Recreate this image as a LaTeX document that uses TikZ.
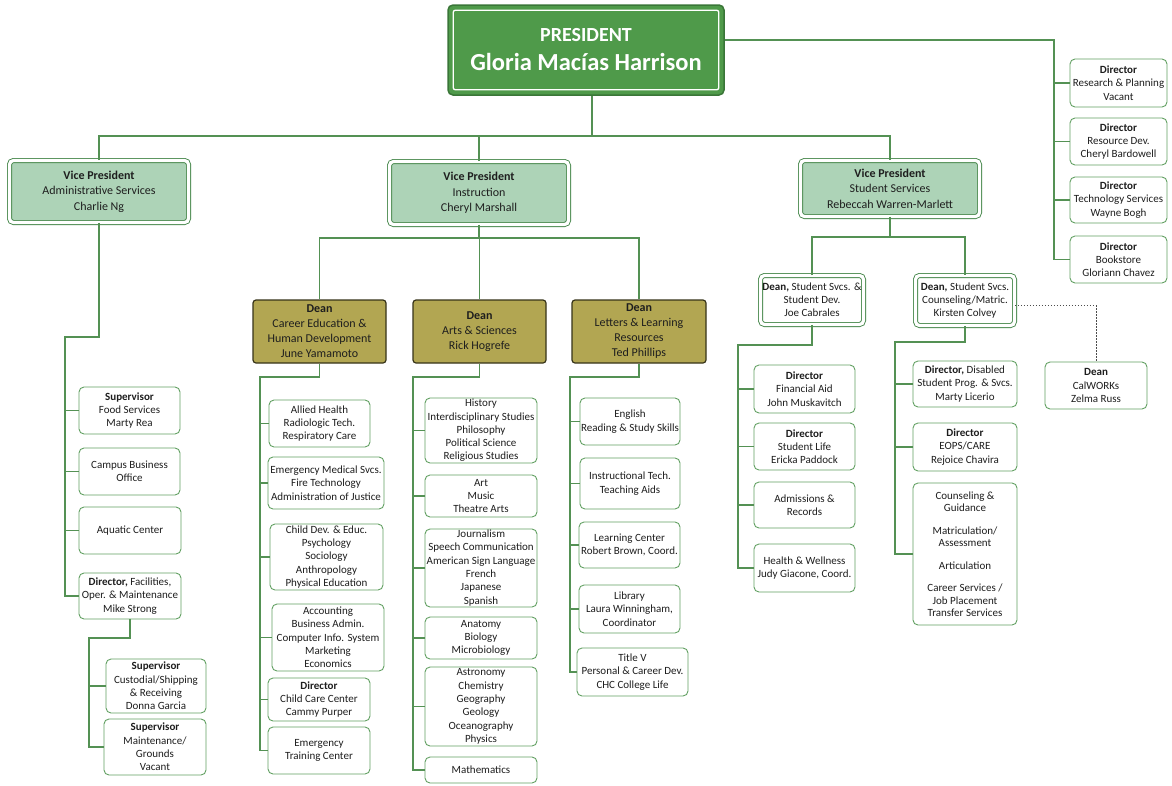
\documentclass[tikz,border=0pt]{standalone}
\usepackage{fontspec}
\setmainfont{Carlito}
\definecolor{lineg}{RGB}{84,145,84}
\definecolor{boxg}{RGB}{98,160,98}
\definecolor{vpline}{RGB}{70,135,75}
\definecolor{vpfill}{RGB}{173,211,183}
\definecolor{deanfill}{RGB}{178,166,82}
\definecolor{deandark}{RGB}{55,52,25}
\definecolor{presg}{RGB}{79,154,74}
\definecolor{presdark}{RGB}{58,118,56}
\definecolor{txt}{RGB}{30,30,30}
\begin{document}
\begin{tikzpicture}[x=1pt,y=-1pt,
 conn/.style={draw=lineg, line width=1.1pt},
 dotline/.style={draw=black!70, line width=0.8pt, dash pattern=on 1.5pt off 1.5pt},
 ubox/.style={draw=boxg, line width=0.9pt, rounded corners=5pt, fill=white, align=center, inner sep=0pt, text=txt, font=\fontsize{11}{13.3}\selectfont},
 dbl/.style={draw=vpline, double=white, double distance=3.2pt, line width=0.9pt, rounded corners=4pt, align=center, inner sep=0pt, text=txt},
 vpbox/.style={dbl, fill=vpfill, font=\fontsize{12}{15.5}\selectfont},
 ssbox/.style={dbl, fill=white, font=\fontsize{11}{13}\selectfont},
 deanbox/.style={draw=deandark, line width=1.2pt, rounded corners=3pt, fill=deanfill, align=center, inner sep=0pt, text=txt, font=\fontsize{12}{15}\selectfont},
 presbox/.style={draw=presdark, line width=1.5pt, rounded corners=5pt, fill=presg, text=white, align=center, inner sep=0pt, font=\fontsize{24.5}{29}\selectfont}
]
\useasboundingbox (0,0) rectangle (1172,785);
\fill[white] (0,0) rectangle (1172,785);

% President
\node[presbox, minimum width=276, minimum height=90] (pres) at (586,50)
 {{\fontsize{20}{29}\selectfont\bfseries PRESIDENT}\\{\bfseries Gloria Macías Harrison}};
\draw[white, line width=1.3pt, rounded corners=2pt] ([xshift=6pt,yshift=-6pt]pres.north west) rectangle ([xshift=-6pt,yshift=6pt]pres.south east);

% Right directors
\node[ubox, minimum width=97, minimum height=48] (d1) at (1118.5,83) {\textbf{Director}\\Research \& Planning\\Vacant};
\node[ubox, minimum width=97, minimum height=47] (d2) at (1118.5,141.5) {\textbf{Director}\\Resource Dev.\\Cheryl Bardowell};
\node[ubox, minimum width=97, minimum height=46] (d3) at (1118.5,200) {\textbf{Director}\\Technology Services\\Wayne Bogh};
\node[ubox, minimum width=97, minimum height=47] (d4) at (1118.5,259.5) {\textbf{Director}\\Bookstore\\Gloriann Chavez};

% Vice presidents
\node[vpbox, minimum width=179, minimum height=62] (vpa) at (99,191.5) {\textbf{Vice President}\\Administrative Services\\Charlie Ng};
\node[vpbox, minimum width=179, minimum height=63] (vpi) at (479,193) {\textbf{Vice President}\\Instruction\\Cheryl Marshall};
\node[vpbox, minimum width=179, minimum height=56] (vss) at (890,188.5) {\textbf{Vice President}\\Student Services\\Rebeccah Warren-Marlett};

% Administrative services
\node[ubox, minimum width=101, minimum height=47] (fs) at (129.5,410.5) {\textbf{Supervisor}\\Food Services\\Marty Rea};
\node[ubox, minimum width=101, minimum height=47] (cbo) at (129.5,471.5) {Campus Business\\Office};
\node[ubox, minimum width=102, minimum height=47] (aq) at (130,530.5) {Aquatic Center};
\node[ubox, minimum width=102, minimum height=46] (fdir) at (130,596) {\textbf{Director,} Facilities,\\Oper. \& Maintenance\\Mike Strong};
\node[ubox, minimum width=100, minimum height=54] (cust) at (156,686) {\textbf{Supervisor}\\Custodial/Shipping\\\& Receiving\\Donna Garcia};
\node[ubox, minimum width=102, minimum height=56] (mg) at (155,747) {\textbf{Supervisor}\\Maintenance/\\Grounds\\Vacant};

% Deans (instruction)
\node[deanbox, minimum width=133, minimum height=63] (dcehd) at (319.5,331.5) {\textbf{Dean}\\Career Education \&\\Human Development\\June Yamamoto};
\node[deanbox, minimum width=133, minimum height=63] (das) at (479.5,331.5) {\textbf{Dean}\\Arts \& Sciences\\Rick Hogrefe};
\node[deanbox, minimum width=134, minimum height=63] (dllr) at (639,331.5) {\textbf{Dean}\\Letters \& Learning\\Resources\\Ted Phillips};

% CEHD
\node[ubox, minimum width=101, minimum height=47] (allied) at (319.5,423.5) {Allied Health\\Radiologic Tech.\\Respiratory Care};
\node[ubox, minimum width=116, minimum height=52] (ems) at (326,483) {Emergency Medical Svcs.\\Fire Technology\\Administration of Justice};
\node[ubox, minimum width=113, minimum height=66] (child) at (326.5,557) {Child Dev. \& Educ.\\Psychology\\Sociology\\Anthropology\\Physical Education};
\node[ubox, minimum width=112, minimum height=67] (acct) at (328,637.5) {Accounting\\Business Admin.\\Computer Info. System\\Marketing\\Economics};
\node[ubox, minimum width=102, minimum height=43] (dccc) at (319,699.5) {\textbf{Director}\\Child Care Center\\Cammy Purper};
\node[ubox, minimum width=102, minimum height=47] (etc) at (319,750.5) {Emergency\\Training Center};

% Arts & Sciences
\node[ubox, minimum width=112, minimum height=65] (hist) at (481,430.5) {History\\Interdisciplinary Studies\\Philosophy\\Political Science\\Religious Studies};
\node[ubox, minimum width=112, minimum height=42] (art) at (481,496) {Art\\Music\\Theatre Arts};
\node[ubox, minimum width=112, minimum height=78] (jour) at (481,568) {Journalism\\Speech Communication\\American Sign Language\\French\\Japanese\\Spanish};
\node[ubox, minimum width=112, minimum height=42] (anat) at (481,638) {Anatomy\\Biology\\Microbiology};
\node[ubox, minimum width=112, minimum height=79] (astr) at (481,706.5) {Astronomy\\Chemistry\\Geography\\Geology\\Oceanography\\Physics};
\node[ubox, minimum width=112, minimum height=26] (math) at (481,770) {Mathematics};

% Letters & Learning Resources
\node[ubox, minimum width=100, minimum height=47] (eng) at (630,421.5) {English\\Reading \& Study Skills};
\node[ubox, minimum width=100, minimum height=51] (instr) at (630,483.5) {Instructional Tech.\\Teaching Aids};
\node[ubox, minimum width=101, minimum height=46] (learn) at (629.5,545) {Learning Center\\Robert Brown, Coord.};
\node[ubox, minimum width=101, minimum height=48] (lib) at (629.5,609) {Library\\Laura Winningham,\\Coordinator};
\node[ubox, minimum width=111, minimum height=48] (title) at (632.5,672) {Title V\\Personal \& Career Dev.\\CHC College Life};

% Student services deans
\node[ssbox, minimum width=103, minimum height=49] (dss1) at (812,300) {\textbf{Dean,} Student Svcs. \&\\Student Dev.\\Joe Cabrales};
\node[ssbox, minimum width=99, minimum height=50] (dss2) at (965,300.5) {\textbf{Dean,} Student Svcs.\\Counseling/Matric.\\Kirsten Colvey};
\node[ubox, minimum width=102, minimum height=47] (cal) at (1096,385.5) {\textbf{Dean}\\CalWORKs\\Zelma Russ};

% Student dev children
\node[ubox, minimum width=101, minimum height=48] (fa) at (804.5,389) {\textbf{Director}\\Financial Aid\\John Muskavitch};
\node[ubox, minimum width=101, minimum height=47] (sl) at (804.5,446.5) {\textbf{Director}\\Student Life\\Ericka Paddock};
\node[ubox, minimum width=101, minimum height=46] (adm) at (804.5,505) {Admissions \&\\Records};
\node[ubox, minimum width=101, minimum height=48] (hw) at (804.5,568) {Health \& Wellness\\Judy Giacone, Coord.};

% Counseling children
\node[ubox, minimum width=104, minimum height=46] (dis) at (965,384) {\textbf{Director,} Disabled\\Student Prog. \& Svcs.\\Marty Licerio};
\node[ubox, minimum width=104, minimum height=48] (eops) at (965,447) {\textbf{Director}\\EOPS/CARE\\Rejoice Chavira};
\node[ubox, minimum width=104, minimum height=142, font=\fontsize{11}{12.5}\selectfont] (coun) at (965,554) {Counseling \&\\Guidance\\[10pt]Matriculation/\\Assessment\\[10pt]Articulation\\[10pt]Career Services /\\Job Placement\\Transfer Services};

% ---- connectors ----
\coordinate (bus) at (0,136);
\draw[conn] ([xshift=6pt]pres.south) -- ([xshift=6pt]pres.south |- bus);
\draw[conn] (vpa.north) -- (vpa.north |- bus) -- (vss.north |- bus) -- (vss.north);
\draw[conn] (vpi.north) -- (vpi.north |- bus);

\coordinate (rsp) at (1054,40);
\draw[conn] (pres.east |- rsp) -- (rsp) |- (d4.west);
\foreach \n in {d1,d2,d3} \draw[conn] (rsp |- \n.west) -- (\n.west);

\coordinate (aj) at (65,337);
\draw[conn] (vpa.south) |- (aj) -- (aj |- fdir.west) -- (fdir.west);
\foreach \n in {fs,cbo,aq} \draw[conn] (aj |- \n.west) -- (\n.west);
\coordinate (fj) at (89,638);
\draw[conn] (fdir.south) |- (fj) -- (fj |- mg.west) -- (mg.west);
\draw[conn] (fj |- cust.west) -- (cust.west);

\coordinate (ibus) at (0,238);
\draw[conn] (vpi.south) -- (vpi.south |- ibus);
\draw[conn] (dcehd.north) -- (dcehd.north |- ibus) -- (dllr.north |- ibus) -- (dllr.north);
\draw[conn] (das.north) -- (das.north |- ibus);

\coordinate (cj) at (260,377);
\draw[conn] (dcehd.south) |- (cj) -- (cj |- etc.west) -- (etc.west);
\foreach \n in {allied,ems,child,acct,dccc} \draw[conn] (cj |- \n.west) -- (\n.west);

\coordinate (asj) at (413,377);
\draw[conn] (das.south) |- (asj) -- (asj |- math.west) -- (math.west);
\foreach \n in {hist,art,jour,anat,astr} \draw[conn] (asj |- \n.west) -- (\n.west);

\coordinate (lj) at (570,377);
\draw[conn] (dllr.south) |- (lj) -- (lj |- title.west) -- (title.west);
\foreach \n in {eng,instr,learn,lib} \draw[conn] (lj |- \n.west) -- (\n.west);

\coordinate (sbus) at (0,237);
\draw[conn] (vss.south) -- (vss.south |- sbus);
\draw[conn] (dss1.north) -- (dss1.north |- sbus) -- (dss2.north |- sbus) -- (dss2.north);

\coordinate (s1j) at (738,345);
\draw[conn] (dss1.south) |- (s1j) -- (s1j |- hw.west) -- (hw.west);
\foreach \n in {fa,sl,adm} \draw[conn] (s1j |- \n.west) -- (\n.west);

\coordinate (s2j) at (895,342);
\draw[conn] (dss2.south) |- (s2j) -- (s2j |- coun.west) -- (coun.west);
\foreach \n in {dis,eops} \draw[conn] (s2j |- \n.west) -- (\n.west);

\draw[dotline] ([yshift=-5pt]dss2.east) -| (cal.north);
\end{tikzpicture}
\end{document}
